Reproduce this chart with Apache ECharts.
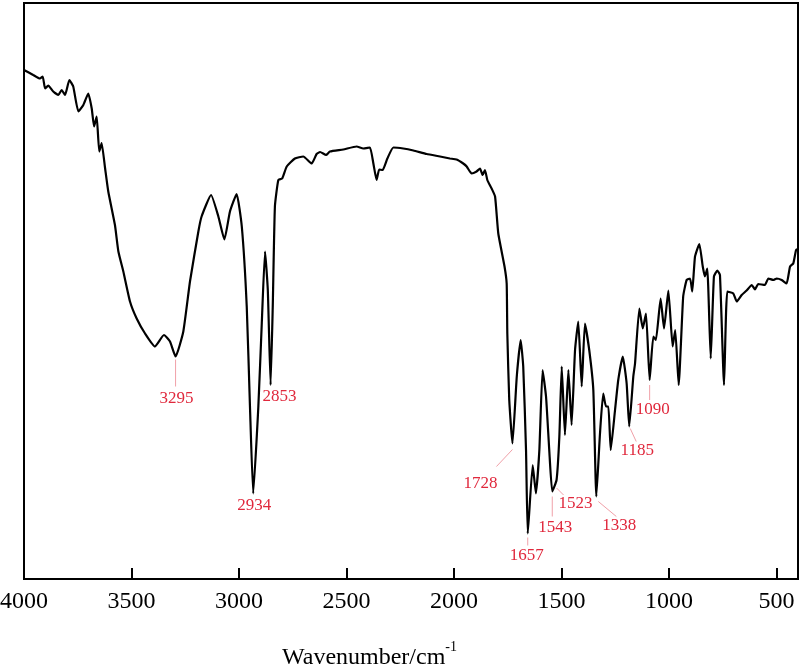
<!DOCTYPE html>
<html><head><meta charset="utf-8">
<script src="https://cdn.jsdelivr.net/npm/echarts@6/dist/echarts.min.js"></script>
<style>html,body{margin:0;padding:0;background:#fff}#c{width:800px;height:668px}</style>
</head><body><div id="c"></div>
<script>
const wavenumber = [4000,3957,3926,3913,3902,3887,3864,3840,3825,3809,
3789,3771,3747,3724,3701,3685,3674,3662,3650,3639,
3623,3608,3577,3561,3538,3507,3476,3437,3391,3349,
3321,3295,3259,3228,3189,3174,3130,3096,3068,3042,
3011,2987,2964,2949,2934,2910,2894,2879,2866,2853,
2843,2833,2817,2799,2778,2740,2701,2662,2639,2623,
2595,2577,2515,2453,2422,2391,2375,2360,2348,2332,
2310,2282,2236,2189,2127,2065,2019,1988,1957,1941,
1918,1895,1879,1867,1856,1845,1825,1809,1794,1765,
1755,1752,1743,1728,1708,1690,1678,1665,1657,1634,
1619,1603,1588,1572,1557,1543,1523,1510,1499,1484,
1468,1453,1437,1422,1406,1391,1371,1352,1338,1321,
1306,1293,1282,1271,1251,1236,1215,1197,1185,1166,
1158,1138,1122,1107,1090,1073,1061,1039,1023,1003,
983,971,955,934,918,902,892,879,859,843,
833,822,806,791,775,763,744,729,701,685,
662,639,615,600,585,554,538,515,499,476,
453,437,422,409,400];
const transmittance = [101.8,100.8,100.1,100.5,98.1,98.7,97.5,96.8,97.8,96.8,
99.8,98.5,93.5,94.8,97.1,94.1,90.5,92.5,85.5,87.2,
82.2,77.5,70.8,65.5,61.5,55.5,52.1,49.1,46.5,48.8,
47.5,44.5,49.5,59.5,69.5,72.5,76.8,72.5,67.9,73.5,
77.0,70.5,54.5,34.5,17.1,34.5,51.2,65.5,57.8,38.8,
54.5,74.5,79.8,80.1,82.5,84.1,84.5,83.1,85.0,85.4,
84.8,85.5,85.9,86.5,86.1,86.3,83.1,79.8,81.9,81.8,
84.1,86.3,86.1,85.7,85.0,84.5,84.1,83.9,83.1,82.5,
81.1,81.5,82.1,80.8,81.8,79.8,78.1,76.5,69.1,62.5,
59.1,49.1,35.8,27.1,40.5,47.8,42.5,25.8,9.1,22.8,
17.1,25.8,41.8,36.5,25.8,17.5,19.8,28.5,42.5,28.8,
41.8,30.8,45.8,51.5,38.5,51.1,45.8,37.8,16.5,29.1,
37.1,34.5,34.5,25.8,33.8,39.8,44.5,39.1,30.5,40.5,
43.1,54.1,50.1,53.1,39.8,48.5,47.8,56.1,50.1,57.7,
46.5,49.8,38.8,56.5,59.8,60.1,57.5,64.5,67.0,62.5,
60.5,62.1,44.1,60.5,61.7,60.8,38.8,57.5,57.1,55.5,
56.8,57.7,58.8,57.9,59.0,58.8,60.1,59.8,60.1,59.8,
59.1,62.5,63.1,65.8,66.0];
const tickValues = [4000,3500,3000,2500,2000,1500,1000,500];
const peakLabels = [3295,2934,2853,1728,1657,1543,1523,1338,1185,1090];
const axisTitle = 'Wavenumber/cm';
const axisTitleSup = '-1';

// label placement styles (pixel offsets from the peak point)
const labelStyle = {
  3295: {t:[1,42], l:[0,3,0,30]},
  2934: {t:[1,12]},
  2853: {t:[9,12]},
  1728: {t:[-32,40], l:[0,6,-16,23]},
  1657: {t:[-1,22], l:[0,4,0,12]},
  1543: {t:[3,36], l:[0,5,0,25]},
  1523: {t:[19,24], l:[0,8,7,15]},
  1338: {t:[23,29], l:[2,5,20,20]},
  1185: {t:[8,24], l:[1,2,7,15]},
  1090: {t:[3,30], l:[0,5,0,20]}
};

const FONT = 'Liberation Serif, Times New Roman, serif';
const chart = echarts.init(document.getElementById('c'), null, {renderer:'canvas'});
chart.setOption({
  animation:false,
  backgroundColor:'#fff',
  grid:{left:24, right:2, top:3, bottom:89, containLabel:false, outerBoundsMode:'none',
    show:true, borderColor:'#000', borderWidth:2, backgroundColor:'transparent'},
  xAxis:{type:'value', inverse:true, min:400, max:4000,
    axisLine:{show:true, onZero:false, lineStyle:{color:'#000', width:2}},
    axisTick:{show:true, inside:true, length:11, lineStyle:{color:'#000', width:2}, customValues:tickValues},
    axisLabel:{show:true, customValues:tickValues, formatter:v=>String(v), hideOverlap:false,
      color:'#000', fontFamily:FONT, fontSize:24, margin:11},
    splitLine:{show:false}},
  yAxis:{type:'value', min:0, max:115.2,
    axisLine:{show:true, lineStyle:{color:'#000', width:2}},
    axisTick:{show:false}, axisLabel:{show:false}, splitLine:{show:false}},
  series:[{type:'line', data:wavenumber.map((w,i)=>[w, transmittance[i]]), symbol:'none', silent:true,
    smooth:0.15, lineStyle:{color:'#000', width:2.2}}]
});

const gfx = [];
peakLabels.forEach(p => {
  const idx = wavenumber.indexOf(p);
  const pt = chart.convertToPixel({seriesIndex:0}, [p, transmittance[idx]]);
  const s = labelStyle[p];
  if (s.l) {
    gfx.push({type:'line', silent:true, shape:{x1:pt[0]+s.l[0], y1:pt[1]+s.l[1], x2:pt[0]+s.l[2], y2:pt[1]+s.l[3]},
      style:{stroke:'#f0a0a8', lineWidth:1}});
  }
  gfx.push({type:'text', silent:true, x:pt[0]+s.t[0], y:pt[1]+s.t[1],
    style:{text:String(p), fill:'#e0283c', font:'17px ' + FONT, align:'center', verticalAlign:'middle'}});
});
gfx.push({type:'text', silent:true, left:282, top:640,
  style:{text:'{a|' + axisTitle + '}{s|' + axisTitleSup + '}',
    rich:{a:{fontSize:24, fontFamily:FONT, fill:'#000', verticalAlign:'bottom', lineHeight:30},
          s:{fontSize:14, fontFamily:FONT, fill:'#000', verticalAlign:'top', lineHeight:30}}}});
chart.setOption({graphic:gfx});
</script></body></html>
